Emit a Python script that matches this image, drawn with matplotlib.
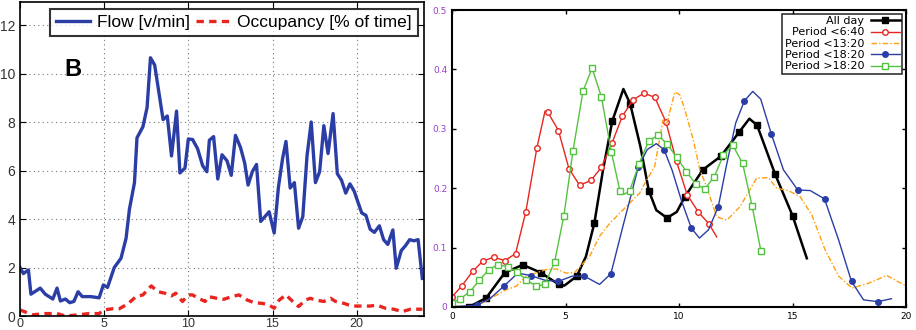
import matplotlib
matplotlib.use("Agg")
import matplotlib.pyplot as plt
from matplotlib.lines import Line2D

plt.rcParams["axes.grid"] = False

# ---- left panel: flow / occupancy over the day
flow_t = [0, 0.2, 0.5, 0.65, 1.2, 1.5, 1.95, 2.2, 2.4, 2.7, 2.95, 3.2, 3.45, 3.7, 4.2, 4.7, 4.95, 5.2,
          5.6, 6.0, 6.3, 6.5, 6.8, 6.95, 7.3, 7.55, 7.75, 8.0, 8.5, 8.75, 9.0, 9.3, 9.5, 9.8, 10.0,
          10.25, 10.55, 10.85, 11.1, 11.25, 11.5, 11.75, 12.0, 12.3, 12.55, 12.8, 13.1, 13.35, 13.55,
          13.8, 14.05, 14.3, 14.8, 15.1, 15.35, 15.6, 15.8, 16.05, 16.3, 16.55, 16.8, 17.05, 17.3,
          17.55, 17.8, 18.05, 18.3, 18.6, 18.85, 19.1, 19.35, 19.6, 19.85, 20.3, 20.55, 20.8, 21.05,
          21.35, 21.6, 21.85, 22.15, 22.35, 22.65, 22.9, 23.15, 23.4, 23.65, 23.9]
flow_v = [2.0, 1.75, 1.9, 0.9, 1.15, 0.9, 0.7, 1.15, 0.62, 0.7, 0.55, 0.6, 1.0, 0.8, 0.8, 0.75, 1.28,
          1.18, 2.0, 2.38, 3.2, 4.4, 5.5, 7.35, 7.8, 8.6, 10.65, 10.35, 8.1, 8.25, 6.6, 8.45, 5.9, 6.1,
          7.3, 7.28, 6.9, 6.2, 5.95, 7.25, 7.4, 5.65, 6.65, 6.4, 5.8, 7.45, 6.95, 6.3, 5.4, 5.95, 6.25,
          3.9, 4.3, 3.42, 5.3, 6.5, 7.2, 5.28, 5.5, 3.62, 4.1, 6.6, 8.0, 5.5, 5.95, 7.85, 6.7, 8.35,
          5.87, 5.6, 5.07, 5.45, 5.15, 4.25, 4.15, 3.58, 3.45, 3.72, 3.15, 2.95, 3.55, 1.97, 2.7, 2.9,
          3.15, 3.1, 3.15, 1.55]

occ_t = [0, 0.75, 1.54, 2.2, 2.7, 3.5, 4.1, 4.7, 5.0, 5.5, 5.9, 6.4, 6.9, 7.3, 7.8, 8.2, 8.6, 9.0,
         9.25, 9.65, 10.0, 10.25, 10.6, 11.0, 11.2, 11.7, 12.1, 12.6, 13.0, 13.5, 13.9, 14.4, 14.8,
         15.1, 15.4, 15.8, 16.2, 16.55, 16.95, 17.25, 17.55, 18.05, 18.45, 18.75, 19.25, 19.7, 20.3,
         20.8, 21.2, 21.7, 22.2, 22.7, 23.2, 23.9]
occ_v = [0.25, 0.05, 0.1, 0.1, 0.0, 0.05, 0.1, 0.1, 0.25, 0.3, 0.3, 0.5, 0.8, 0.87, 1.24, 1.0, 0.94,
         0.83, 0.94, 0.6, 0.87, 0.87, 0.73, 0.6, 0.8, 0.73, 0.69, 0.8, 0.87, 0.66, 0.55, 0.52, 0.45,
         0.32, 0.66, 0.87, 0.6, 0.39, 0.66, 0.73, 0.66, 0.6, 0.73, 0.6, 0.52, 0.41, 0.41, 0.41, 0.45,
         0.32, 0.28, 0.18, 0.28, 0.28]

# ---- right panel: distributions per period
allday_x = [0, 0.74, 1.5, 2.33, 3.12, 3.9, 4.71, 4.95, 5.5, 5.9, 6.27, 6.65, 7.06, 7.55, 7.85, 8.3,
            8.67, 9.0, 9.47, 9.9, 10.25, 11.05, 11.85, 12.64, 13.1, 13.44, 14.23, 15.0, 15.63]
allday_y = [0, 0.0, 0.015, 0.058, 0.071, 0.058, 0.038, 0.036, 0.052, 0.085, 0.141, 0.23, 0.313, 0.367,
            0.342, 0.27, 0.196, 0.163, 0.150, 0.160, 0.185, 0.231, 0.254, 0.294, 0.317, 0.306, 0.224,
            0.154, 0.082]
allday_mx = [0.74, 1.5, 2.33, 3.12, 3.9, 4.71, 5.5, 6.27, 7.06, 7.85, 8.67, 9.47, 10.25, 11.05, 11.85,
             12.64, 13.44, 14.23, 15.0]
allday_my = [0.0, 0.015, 0.058, 0.071, 0.058, 0.038, 0.052, 0.141, 0.313, 0.342, 0.196, 0.150, 0.185,
             0.231, 0.254, 0.294, 0.306, 0.224, 0.154]

p1_x = [0, 0.44, 0.91, 1.35, 1.84, 2.33, 2.8, 3.25, 3.74, 4.1, 4.22, 4.69, 5.15, 5.62, 6.12, 6.58, 7.05,
        7.5, 7.98, 8.46, 8.93, 9.42, 9.89, 10.36, 10.85, 11.32, 11.66]
p1_y = [0.017, 0.036, 0.06, 0.077, 0.084, 0.078, 0.09, 0.16, 0.268, 0.33, 0.328, 0.297, 0.233, 0.205,
        0.213, 0.235, 0.276, 0.321, 0.349, 0.36, 0.353, 0.312, 0.245, 0.189, 0.16, 0.14, 0.118]
p1_mx = [0, 0.44, 0.91, 1.35, 1.84, 2.33, 2.8, 3.25, 3.74, 4.22, 4.69, 5.15, 5.62, 6.12, 6.58, 7.05,
         7.5, 7.98, 8.46, 8.93, 9.42, 9.89, 10.36, 10.85, 11.32]
p1_my = [0.017, 0.036, 0.06, 0.077, 0.084, 0.078, 0.09, 0.16, 0.268, 0.328, 0.297, 0.233, 0.205, 0.213,
         0.235, 0.276, 0.321, 0.349, 0.36, 0.353, 0.312, 0.245, 0.189, 0.16, 0.14]

p2_x = [0, 1.06, 2.38, 2.83, 3.27, 4.15, 4.6, 5.03, 5.4, 6.06, 6.5, 6.95, 7.39, 8.27, 8.42, 8.93, 9.3,
        9.45, 9.82, 10.04, 10.26, 10.63, 10.92, 11.21, 11.51, 11.66, 12.02, 12.13, 12.69, 13.42, 13.57,
        13.94, 14.3, 14.82, 15.33, 15.85, 16.44, 17.03, 17.62, 18.28, 19.16, 19.97]
p2_y = [0, 0.001, 0.029, 0.035, 0.052, 0.063, 0.064, 0.057, 0.058, 0.085, 0.119, 0.141, 0.158, 0.192,
        0.203, 0.237, 0.315, 0.307, 0.362, 0.357, 0.332, 0.281, 0.231, 0.203, 0.169, 0.152, 0.147,
        0.147, 0.169, 0.217, 0.217, 0.218, 0.2, 0.196, 0.186, 0.155, 0.096, 0.052, 0.032, 0.039,
        0.053, 0.036]

p3_x = [0, 1.1, 1.7, 2.31, 2.9, 3.46, 4.1, 4.67, 5.3, 5.83, 6.5, 7.0, 7.53, 7.9, 8.2, 8.6, 9.0, 9.34,
        9.7, 10.1, 10.54, 10.9, 11.3, 11.73, 12.1, 12.5, 12.88, 13.25, 13.6, 14.07, 14.6, 15.23, 15.78,
        16.41, 17.03, 17.6, 18.13, 18.76, 19.36]
p3_y = [0, 0.003, 0.015, 0.036, 0.057, 0.053, 0.045, 0.043, 0.052, 0.052, 0.038, 0.056, 0.136, 0.19,
        0.235, 0.265, 0.275, 0.265, 0.23, 0.18, 0.133, 0.116, 0.13, 0.169, 0.24, 0.31, 0.347, 0.363,
        0.35, 0.291, 0.231, 0.197, 0.196, 0.182, 0.113, 0.043, 0.012, 0.009, 0.014]
p3_mx = [0, 1.1, 2.31, 3.46, 4.67, 5.83, 7.0, 8.2, 9.34, 10.54, 11.73, 12.88, 14.07, 15.23, 16.41,
         17.6, 18.76]
p3_my = [0, 0.003, 0.036, 0.053, 0.043, 0.052, 0.056, 0.235, 0.265, 0.133, 0.169, 0.347, 0.291, 0.197,
         0.182, 0.043, 0.009]

p4_x = [0, 0.37, 0.79, 1.21, 1.62, 2.02, 2.46, 2.87, 3.27, 3.71, 4.09, 4.52, 4.93, 5.33, 5.77, 6.17,
        6.58, 7.02, 7.4, 7.6, 7.83, 8.24, 8.67, 9.08, 9.49, 9.89, 10.33, 10.73, 11.14, 11.55, 11.96,
        12.36, 12.8, 13.22, 13.61]
p4_y = [0.006, 0.014, 0.026, 0.045, 0.063, 0.071, 0.068, 0.059, 0.046, 0.035, 0.038, 0.076, 0.154,
        0.263, 0.363, 0.402, 0.354, 0.261, 0.195, 0.19, 0.196, 0.241, 0.28, 0.289, 0.274, 0.252, 0.228,
        0.207, 0.199, 0.219, 0.256, 0.273, 0.242, 0.17, 0.094]
p4_mx = [x for x in p4_x if x != 7.6]
p4_my = [y for x, y in zip(p4_x, p4_y) if x != 7.6]

labels = ["All day", "Period <6:40", "Period <13:20", "Period <18:20", "Period >18:20"]

fig = plt.figure(figsize=(9.16, 3.3), dpi=100)

# ---------- right panel first (keeps its tick settings apart from the left one)
ax2 = fig.add_axes([452 / 916, 23 / 330, 454 / 916, 297 / 330])
ax2.set_xlim(0, 20)
ax2.set_ylim(0, 0.5)
ax2.set_xticks([0, 5, 10, 15, 20])
ax2.set_yticks([0, 0.1, 0.2, 0.3, 0.4, 0.5])
ax2.set_yticklabels(["0", "0.1", "0.2", "0.3", "0.4", "0.5"])
ax2.tick_params(direction="in", top=True, right=True, labelsize=6.5, length=3, width=1)
ax2.tick_params(axis="y", labelcolor="#9a3fc8")
for s in ax2.spines.values():
    s.set_linewidth(1.5)

ax2.plot(allday_x, allday_y, color="black", lw=1.8)
ax2.plot(allday_mx, allday_my, ls="none", marker="s", ms=5, color="black")
ax2.plot(p1_x, p1_y, color="#e8261f", lw=1.0)
ax2.plot(p1_mx, p1_my, ls="none", marker="o", ms=4, mfc="white", mec="#e8261f", mew=1.0)
ax2.plot(p2_x, p2_y, color="#ffa010", lw=1.0, ls=(0, (4, 1.5, 1, 1.5)))
ax2.plot(p3_x, p3_y, color="#2b3ea6", lw=1.0)
ax2.plot(p3_mx, p3_my, ls="none", marker="o", ms=4, color="#2b3ea6")
ax2.plot(p4_x, p4_y, color="#55c23f", lw=1.0)
ax2.plot(p4_mx, p4_my, ls="none", marker="s", ms=4, mfc="white", mec="#55c23f", mew=1.0)

handles = [
    Line2D([], [], color="black", lw=1.8, marker="s", ms=5),
    Line2D([], [], color="#e8261f", lw=1.0, marker="o", ms=4, mfc="white"),
    Line2D([], [], color="#ffa010", lw=1.0, ls=(0, (4, 1.5, 1, 1.5))),
    Line2D([], [], color="#2b3ea6", lw=1.0, marker="o", ms=4),
    Line2D([], [], color="#55c23f", lw=1.0, marker="s", ms=4, mfc="white"),
]
leg2 = ax2.legend(handles, labels, loc="upper right", bbox_to_anchor=(0.991, 0.987), markerfirst=False,
                  fontsize=8, frameon=True, fancybox=False, edgecolor="black", borderpad=0.2,
                  labelspacing=0.12, handlelength=2.6, handletextpad=0.6, borderaxespad=0)
leg2.get_frame().set_linewidth(1.2)

# ---------- left panel
ax = fig.add_axes([20 / 916, 14 / 330, 404 / 916, 314 / 330])
ax.plot(flow_t, flow_v, color="#2b3ea6", lw=2.4, label="Flow [v/min]")
ax.plot(occ_t, occ_v, color="#e8261f", lw=2.4, ls=(0, (2.2, 1.6)), label="Occupancy [% of time]")
ax.set_xlim(0, 24)
ax.set_ylim(0, 12.95)
ax.set_xticks([0, 5, 10, 15, 20])
ax.set_yticks([0, 2, 4, 6, 8, 10, 12])
ax.tick_params(direction="in", top=True, right=True, labelsize=10, labelcolor="#333333", length=4)
ax.tick_params(axis="x", labelsize=9, pad=1.5)
# dotted grid, left panel only
for gx in [5, 10, 15, 20]:
    ax.plot([gx, gx], [0, 12.95], ls=(0, (1, 3)), color="#777777", lw=0.8, zorder=0)
for gy in [2, 4, 6, 8, 10, 12]:
    ax.plot([0, 24], [gy, gy], ls=(0, (1, 3)), color="#777777", lw=0.8, zorder=0)
for lab in ax.get_xticklabels() + ax.get_yticklabels():
    lab.set_family("Liberation Sans")
for s in ax.spines.values():
    s.set_linewidth(1.2)
ax.text(0.13, 0.785, "B", transform=ax.transAxes, fontsize=17, fontweight="bold",
        family="Liberation Sans", ha="center", va="center")
leg = ax.legend(ax.get_lines()[:2], ["Flow [v/min]", "Occupancy [% of time]"],
                loc="upper right", bbox_to_anchor=(0.985, 0.978), ncol=2,
                prop={"family": "Liberation Sans", "size": 12.5}, frameon=True, fancybox=False,
                edgecolor="black", borderpad=0.35, handlelength=2.0, columnspacing=0.3,
                handletextpad=0.4, borderaxespad=0)
leg.get_frame().set_linewidth(1.5)

for a in (ax, ax2):
    for t in a.xaxis.get_major_ticks() + a.yaxis.get_major_ticks():
        t.gridline.set_visible(False)

fig.savefig("out.png", dpi=100)
